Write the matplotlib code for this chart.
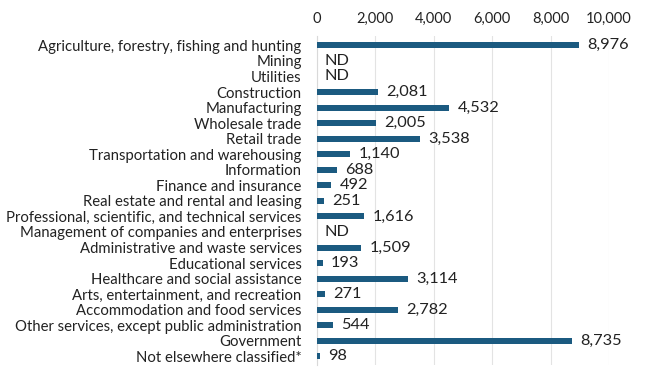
import matplotlib
matplotlib.use("Agg")
import matplotlib.pyplot as plt
import numpy as np

plt.rcParams['font.family'] = ['Lato', 'DejaVu Sans']

industries = [
    "Agriculture, forestry, fishing and hunting",
    "Mining",
    "Utilities",
    "Construction",
    "Manufacturing",
    "Wholesale trade",
    "Retail trade",
    "Transportation and warehousing",
    "Information",
    "Finance and insurance",
    "Real estate and rental and leasing",
    "Professional, scientific, and technical services",
    "Management of companies and enterprises",
    "Administrative and waste services",
    "Educational services",
    "Healthcare and social assistance",
    "Arts, entertainment, and recreation",
    "Accommodation and food services",
    "Other services, except public administration",
    "Government",
    "Not elsewhere classified*",
]
# None = not disclosed (ND)
jobs = [8976, None, None, 2081, 4532, 2005, 3538, 1140, 688, 492, 251,
        1616, None, 1509, 193, 3114, 271, 2782, 544, 8735, 98]
xticks = [0, 2000, 4000, 6000, 8000, 10000]

bar_color = "#1b5a80"
txt = "#222222"

fig = plt.figure(figsize=(6.5, 3.78), dpi=100)
ax = fig.add_axes([317 / 650, 1 - 365 / 378, 292 / 650, (365 - 36) / 378])

y = np.arange(len(industries))
vals = [v if v is not None else 0 for v in jobs]
ax.barh(y, vals, height=0.38, color=bar_color, zorder=3)

for yi, v in zip(y, jobs):
    if v is None:
        ax.text(250, yi, "ND", va="center", ha="left", fontsize=11.8, color=txt)
    else:
        ax.text(v + 280, yi, f"{v:,}", va="center", ha="left", fontsize=11.8, color=txt)

ax.set_yticks(y)
ax.set_yticklabels(industries, fontsize=10.7, color=txt)
ax.set_ylim(len(industries) - 0.45, -0.6)
ax.set_xlim(0, 10000)
ax.set_xticks(xticks)
ax.set_xticklabels([f"{t:,}" for t in xticks], fontsize=10.5, color=txt)
ax.xaxis.tick_top()
ax.tick_params(axis="y", length=0, pad=11)
ax.tick_params(axis="x", length=0, pad=7)

ax.grid(axis="x", color="#e3e3e3", linewidth=0.8, zorder=0)
for s in ["top", "right", "bottom"]:
    ax.spines[s].set_visible(False)
ax.spines["left"].set_color("#d9d9d9")

fig.savefig("out.png", dpi=100)
